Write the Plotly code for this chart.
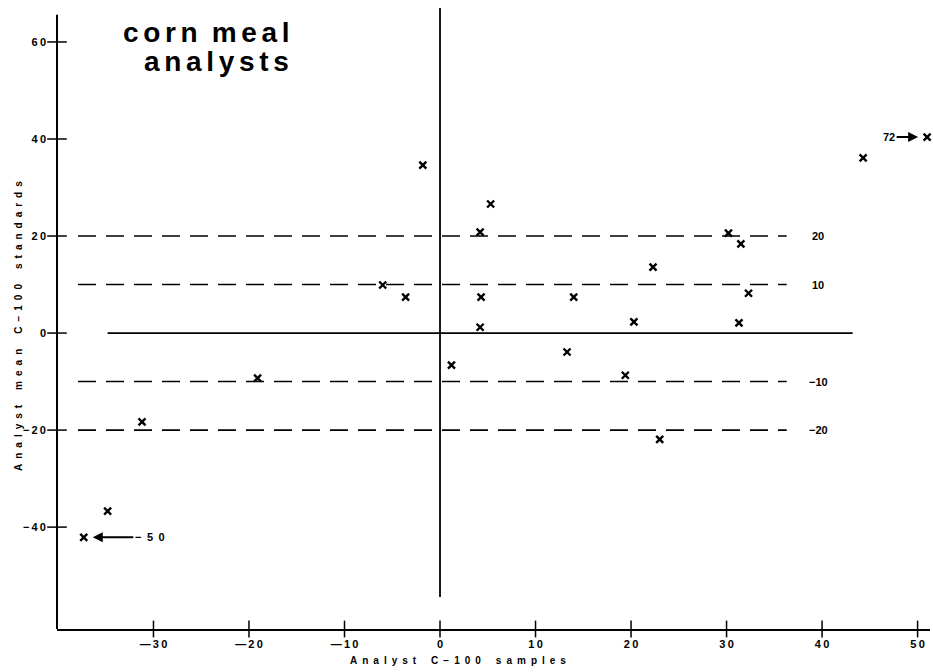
import plotly.graph_objects as go

# ---- data ----
x_vals = [-1.8, -6.0, -3.6, 44.3, 5.3, 4.2, 30.2, 31.5, 22.3, 4.3, 14.0, 32.3,
          4.2, 20.3, 31.3, 13.3, 19.4, 23.0, 1.2, -19.1, -31.2, -34.8]
y_vals = [34.6, 9.9, 7.4, 36.1, 26.6, 20.8, 20.6, 18.4, 13.6, 7.4, 7.4, 8.2,
          1.2, 2.3, 2.1, -3.9, -8.7, -21.9, -6.6, -9.3, -18.3, -36.7]

# off-scale analysts: plotted at the edge, true x value given as a label
off_x_plot = [51.0, -37.3]
off_y = [40.4, -42.1]
off_labels = ["72", "\u2212\u20025\u20020"]
off_ax = [-38, 66]

band_levels = [20, 10, -10, -20]
band_labels = ["20", "10", "\u221210", "\u221220"]

x_tickvals = [-30, -20, -10, 0, 10, 20, 30, 40, 50]
x_ticktext = ["\u2014\u20093\u20090", "\u2014\u20092\u20090", "\u2014\u20091\u20090", "0",
              "1\u20090", "2\u20090", "3\u20090", "4\u20090", "5\u20090"]
y_tickvals = [60, 40, 20, 0, -20, -40]
y_ticktext = ["6\u20090", "4\u20090", "2\u20090", "0", "\u2212\u20092\u20090", "\u2212\u20094\u20090"]

X_RANGE = [-40.1, 51.3]
Y_RANGE = [-61.0, 67.0]

FONT = "Liberation Sans, Arial, sans-serif"
L, R, T, B = 57, 3, 8, 43
PW, PH = 933 - L - R, 672 - T - B


def px_x(p):
    return (p - L) / PW


def px_y(p):
    return (672 - B - p) / PH


fig = go.Figure()

mark = dict(symbol="x-thin", size=7, line=dict(width=2.4, color="black"))
# analysts
fig.add_trace(go.Scatter(x=x_vals, y=y_vals, mode="markers", marker=mark,
                         showlegend=False, hoverinfo="x+y"))
fig.add_trace(go.Scatter(x=off_x_plot, y=off_y, mode="markers", cliponaxis=False,
                         marker=mark, showlegend=False))

# crossing tick marks
fig.add_trace(go.Scatter(
    x=x_tickvals, y=[Y_RANGE[0]] * len(x_tickvals), mode="markers", cliponaxis=False,
    marker=dict(symbol="line-ns", size=12, line=dict(width=1.5, color="black")),
    showlegend=False, hoverinfo="skip"))
fig.add_trace(go.Scatter(
    x=[X_RANGE[0]] * len(y_tickvals), y=y_tickvals, mode="markers", cliponaxis=False,
    marker=dict(symbol="line-ew", size=14, line=dict(width=1.5, color="black")),
    showlegend=False, hoverinfo="skip"))

shapes = []
# dashed +/- 10, 20 bands
for lv in band_levels:
    shapes.append(dict(type="line", xref="x", yref="y", x0=-37.9, x1=36.3, y0=lv, y1=lv,
                       line=dict(color="black", width=1.6, dash="18px,10px")))
# zero lines
shapes.append(dict(type="line", xref="x", yref="y", x0=-34.8, x1=43.2, y0=0, y1=0,
                   line=dict(color="black", width=1.8)))
shapes.append(dict(type="line", xref="x", yref="y", x0=0, x1=0, y0=-54.4, y1=67.0,
                   line=dict(color="black", width=1.8)))
# left axis
shapes.append(dict(type="line", xref="paper", yref="y", x0=0, x1=0, y0=Y_RANGE[0], y1=65.6,
                   line=dict(color="black", width=2)))

label_font = dict(family=FONT, size=11, color="black", weight="bold")
annotations = []
for lv, lb in zip(band_levels, band_labels):
    annotations.append(dict(x=39.6, y=lv, xref="x", yref="y", text=lb, showarrow=False,
                            font=label_font))
for xp, yp, lb, ax in zip(off_x_plot, off_y, off_labels, off_ax):
    annotations.append(dict(x=xp, y=yp, xref="x", yref="y", text=lb, showarrow=True,
                            ax=ax, ay=0, arrowhead=2, arrowsize=1, arrowwidth=2,
                            standoff=9, arrowcolor="black", font=label_font))

# title block
title_font = dict(family=FONT, size=28, color="black", weight="bold")
annotations.append(dict(xref="paper", yref="paper", x=px_x(291), y=px_y(33),
                        xanchor="right", yanchor="middle",
                        text="\u2006".join("corn") + "\u2002" + "\u2006".join("meal"),
                        showarrow=False, font=title_font))
annotations.append(dict(xref="paper", yref="paper", x=px_x(291), y=px_y(61),
                        xanchor="right", yanchor="middle",
                        text="\u2006".join("analysts"),
                        showarrow=False, font=title_font))

# axis titles (letter-spaced)
axis_font = dict(family=FONT, size=10, color="black", weight="bold")


def spaced(words):
    return "\u2003\u2002".join("\u2002".join(w) for w in words)


annotations.append(dict(xref="paper", yref="paper", x=px_x(458), y=px_y(660),
                        text=spaced(["Analyst", "C\u2212100", "samples"]), showarrow=False,
                        font=axis_font, xanchor="center", yanchor="middle"))
annotations.append(dict(xref="paper", yref="paper", x=px_x(18), y=px_y(326),
                        text=spaced(["Analyst", "mean", "C\u2212100", "standards"]),
                        showarrow=False, textangle=-90, font=axis_font,
                        xanchor="center", yanchor="middle"))

tick_font = dict(family=FONT, size=11, color="black", weight="bold")
fig.update_layout(
    width=933, height=672,
    margin=dict(l=L, r=R, t=T, b=B, autoexpand=False),
    paper_bgcolor="white", plot_bgcolor="white",
    showlegend=False,
    shapes=shapes, annotations=annotations,
    xaxis=dict(range=X_RANGE, showgrid=False, zeroline=False, showline=True,
               linecolor="black", linewidth=2, ticks="", tickvals=x_tickvals,
               ticktext=x_ticktext, tickfont=tick_font, ticklabelstandoff=4,
               automargin=False),
    yaxis=dict(range=Y_RANGE, showgrid=False, zeroline=False, showline=False,
               ticks="", tickvals=y_tickvals, ticktext=y_ticktext,
               tickfont=tick_font, ticklabelstandoff=10, automargin=False),
)

fig.write_html("out.html", config={"displayModeBar": False},
               post_script="document.body.style.margin='0px';")
